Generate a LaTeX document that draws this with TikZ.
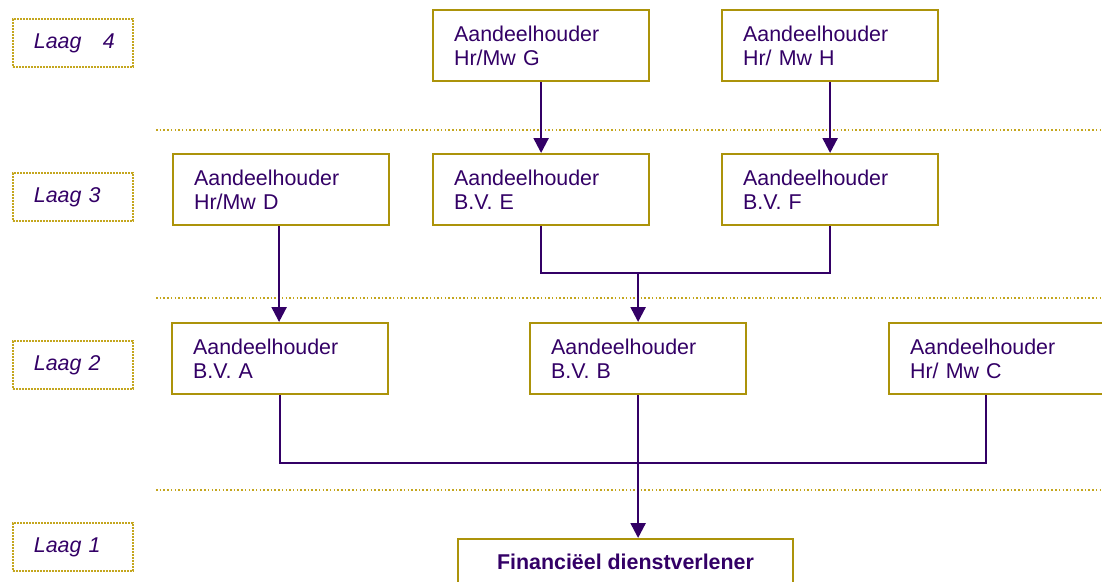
\documentclass[tikz,border=0pt]{standalone}
\usepackage{fontspec}
\setmainfont{Liberation Sans}
\usetikzlibrary{arrows.meta}

\definecolor{inkpurple}{RGB}{51,0,102}
\definecolor{boxgold}{RGB}{172,147,10}
\definecolor{dotgold}{RGB}{196,166,30}

\begin{document}
\begin{tikzpicture}[x=1pt,y=-1pt, % 1 unit = 1 pixel of the layout, y runs down
    holder/.style={draw=boxgold, line width=2.2pt, fill=white, anchor=north west,
        text=inkpurple, font=\fontsize{21.4pt}{24pt}\selectfont, align=left,
        text width=174pt, inner xsep=21pt, minimum height=71pt},
    laag/.style={draw=dotgold, line width=1.8pt, dash pattern=on 1.8pt off 1.2pt,
        anchor=north west, text=inkpurple, font=\fontsize{21.4pt}{24pt}\selectfont\itshape,
        align=left, text width=78pt, inner xsep=21pt, minimum height=48pt},
    sep/.style={draw=dotgold, line width=1.5pt, dash pattern=on 1.5pt off 2.2pt},
    link/.style={draw=inkpurple, line width=2.4pt},
    arrow/.style={link, -{Triangle[length=15pt,width=15pt]}}]
            \useasboundingbox (0,0) rectangle (1102,581);
            \clip (0,0) rectangle (1102,581);
            % Layer labels on the left
            \node[laag] (laag4) at (12,18) {Laag~~~4};
            \node[laag] (laag3) at (12,172) {Laag 3};
            \node[laag] (laag2) at (12,340) {Laag 2};
            \node[laag] (laag1) at (12,522) {Laag 1};
            % Dotted lines between the layers
            \draw[sep] (156,130) -- (1102,130);
            \draw[sep] (156,298) -- (1102,298);
            \draw[sep] (156,490) -- (1102,490);
            % Layer 4
            \node[holder] (hG) at (432,9) {Aandeelhouder\\Hr/Mw G};
            \node[holder] (hH) at (721,9) {Aandeelhouder\\Hr/ Mw H};
            % Layer 3
            \node[holder] (hD) at (172,153) {Aandeelhouder\\Hr/Mw D};
            \node[holder] (bvE) at (432,153) {Aandeelhouder\\B.V. E};
            \node[holder] (bvF) at (721,153) {Aandeelhouder\\B.V. F};
            % Layer 2
            \node[holder] (bvA) at (171,322) {Aandeelhouder\\B.V. A};
            \node[holder] (bvB) at (529,322) {Aandeelhouder\\B.V. B};
            \node[holder] (hC) at (888,322) {Aandeelhouder\\Hr/ Mw C};
            % Layer 1
            \node[draw=boxgold, line width=2.2pt, anchor=north, text=inkpurple,
                font=\fontsize{21.4pt}{24pt}\selectfont\bfseries, minimum width=335pt,
                inner ysep=15pt] (fin) at (625.5,538) {Financiëel dienstverlener};

            % Connectors
            \coordinate (joinEF) at (bvB.north |- 0,273);
            \coordinate (joinAC) at (bvB.south |- 0,463);
            \draw[arrow] (hG) -- (hG |- bvE.north);
            \draw[arrow] (hH) -- (hH |- bvF.north);
            \draw[arrow] ([xshift=-2pt]hD.south) -- ([xshift=-2pt]hD.south |- bvA.north);
            \draw[link] (bvE.south) |- (joinEF) -| (bvF.south);
            \draw[arrow] (joinEF) -- (bvB.north);
            \draw[link] (bvA.south) |- (joinAC) -| ([xshift=-11pt]hC.south);
            \draw[arrow] (bvB.south) -- (bvB.south |- fin.north);
        \end{tikzpicture}
\end{document}
